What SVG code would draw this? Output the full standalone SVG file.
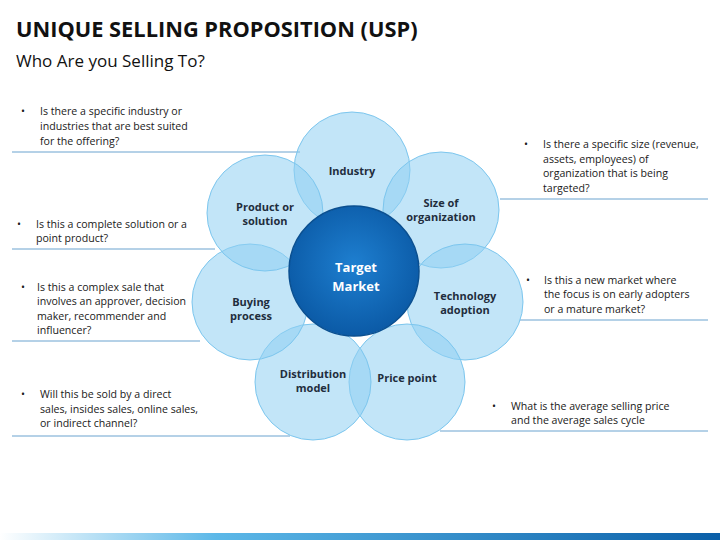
<svg xmlns="http://www.w3.org/2000/svg" width="720" height="540" viewBox="0 0 720 540">
<defs>
<style>
.t{font-family:"Open Sans","Liberation Sans",sans-serif;font-size:10.6px;fill:#1a1a1a}
.p{fill:#8fd0f3;fill-opacity:0.55;stroke:#7cc6ee;stroke-width:1}
.pl{font-family:"Open Sans","Liberation Sans",sans-serif;font-size:11px;font-weight:bold;fill:#1f2d3d;text-anchor:middle}
.ln{stroke:#6aa3cf;stroke-width:1}
</style>
<linearGradient id="bar" x1="0" x2="1"><stop offset="0" stop-color="#ffffff"/><stop offset="0.3" stop-color="#5cb8e8"/><stop offset="1" stop-color="#0a5fa8"/></linearGradient>
<radialGradient id="c" cx="0.5" cy="0.45" r="0.55"><stop offset="0" stop-color="#1e7fd0"/><stop offset="1" stop-color="#0b5aa6"/></radialGradient>
</defs>
<rect width="720" height="540" fill="#fff"/>
<text x="16" y="37" font-family="'Open Sans','Liberation Sans',sans-serif" font-size="21.8" font-weight="bold" fill="#111">UNIQUE SELLING PROPOSITION (USP)</text>
<text x="16" y="67" font-family="'Open Sans','Liberation Sans',sans-serif" font-size="17" fill="#111">Who Are you Selling To?</text>
<g id="connectors">
<line class="ln" x1="12" y1="152" x2="300" y2="152"/>
<line class="ln" x1="12" y1="249" x2="215" y2="249"/>
<line class="ln" x1="12" y1="341" x2="200" y2="341"/>
<line class="ln" x1="12" y1="436" x2="290" y2="436"/>
<line class="ln" x1="500" y1="199" x2="708" y2="199"/>
<line class="ln" x1="520" y1="320" x2="708" y2="320"/>
<line class="ln" x1="440" y1="431" x2="708" y2="431"/>
</g>
<g id="petals">
<g id="industry"><circle class="p" cx="352" cy="170" r="58"/><text class="pl" x="352" y="175">Industry</text></g>
<g id="size"><circle class="p" cx="441" cy="210" r="58"/><text class="pl" x="441" y="207">Size of</text><text class="pl" x="441" y="221">organization</text></g>
<g id="tech"><circle class="p" cx="465" cy="302" r="58"/><text class="pl" x="465" y="300">Technology</text><text class="pl" x="465" y="314">adoption</text></g>
<g id="price"><circle class="p" cx="407" cy="382" r="58"/><text class="pl" x="407" y="382">Price point</text></g>
<g id="dist"><circle class="p" cx="313" cy="382" r="58"/><text class="pl" x="313" y="378">Distribution</text><text class="pl" x="313" y="392">model</text></g>
<g id="buying"><circle class="p" cx="250" cy="302" r="58"/><text class="pl" x="251" y="306">Buying</text><text class="pl" x="251" y="320">process</text></g>
<g id="product"><circle class="p" cx="265" cy="213" r="58"/><text class="pl" x="265" y="211">Product or</text><text class="pl" x="265" y="225">solution</text></g>
</g>
<g id="center"><circle cx="354" cy="271" r="65" fill="url(#c)" stroke="#0a4f90" stroke-width="1.5"/>
<text x="356" y="272" font-family="'Open Sans','Liberation Sans',sans-serif" font-size="13" font-weight="bold" fill="#fff" text-anchor="middle">Target</text>
<text x="356" y="291" font-family="'Open Sans','Liberation Sans',sans-serif" font-size="13" font-weight="bold" fill="#fff" text-anchor="middle">Market</text></g>
<g id="notes">
<text class="t" x="21" y="115">•</text><text class="t" x="40" y="115">Is there a specific industry or</text><text class="t" x="40" y="130">industries that are best suited</text><text class="t" x="40" y="145">for the offering?</text>
<text class="t" x="17" y="228">•</text><text class="t" x="36" y="228">Is this a complete solution or a</text><text class="t" x="36" y="242">point product?</text>
<text class="t" x="21" y="291">•</text><text class="t" x="37" y="291">Is this a complex sale that</text><text class="t" x="37" y="305">involves an approver, decision</text><text class="t" x="37" y="320">maker, recommender and</text><text class="t" x="37" y="334">influencer?</text>
<text class="t" x="21" y="398">•</text><text class="t" x="40" y="398">Will this be sold by a direct</text><text class="t" x="40" y="413">sales, insides sales, online sales,</text><text class="t" x="40" y="427">or indirect channel?</text>
<text class="t" x="524" y="148">•</text><text class="t" x="543" y="148">Is there a specific size (revenue,</text><text class="t" x="543" y="163">assets, employees) of</text><text class="t" x="543" y="177">organization that is being</text><text class="t" x="543" y="192">targeted?</text>
<text class="t" x="526" y="284">•</text><text class="t" x="544" y="284">Is this a new market where</text><text class="t" x="544" y="298">the focus is on early adopters</text><text class="t" x="544" y="313">or a mature market?</text>
<text class="t" x="492" y="410">•</text><text class="t" x="511" y="410">What is the average selling price</text><text class="t" x="511" y="424">and the average sales cycle</text>
</g>
<rect x="0" y="533" width="720" height="7" fill="url(#bar)"/>
</svg>
